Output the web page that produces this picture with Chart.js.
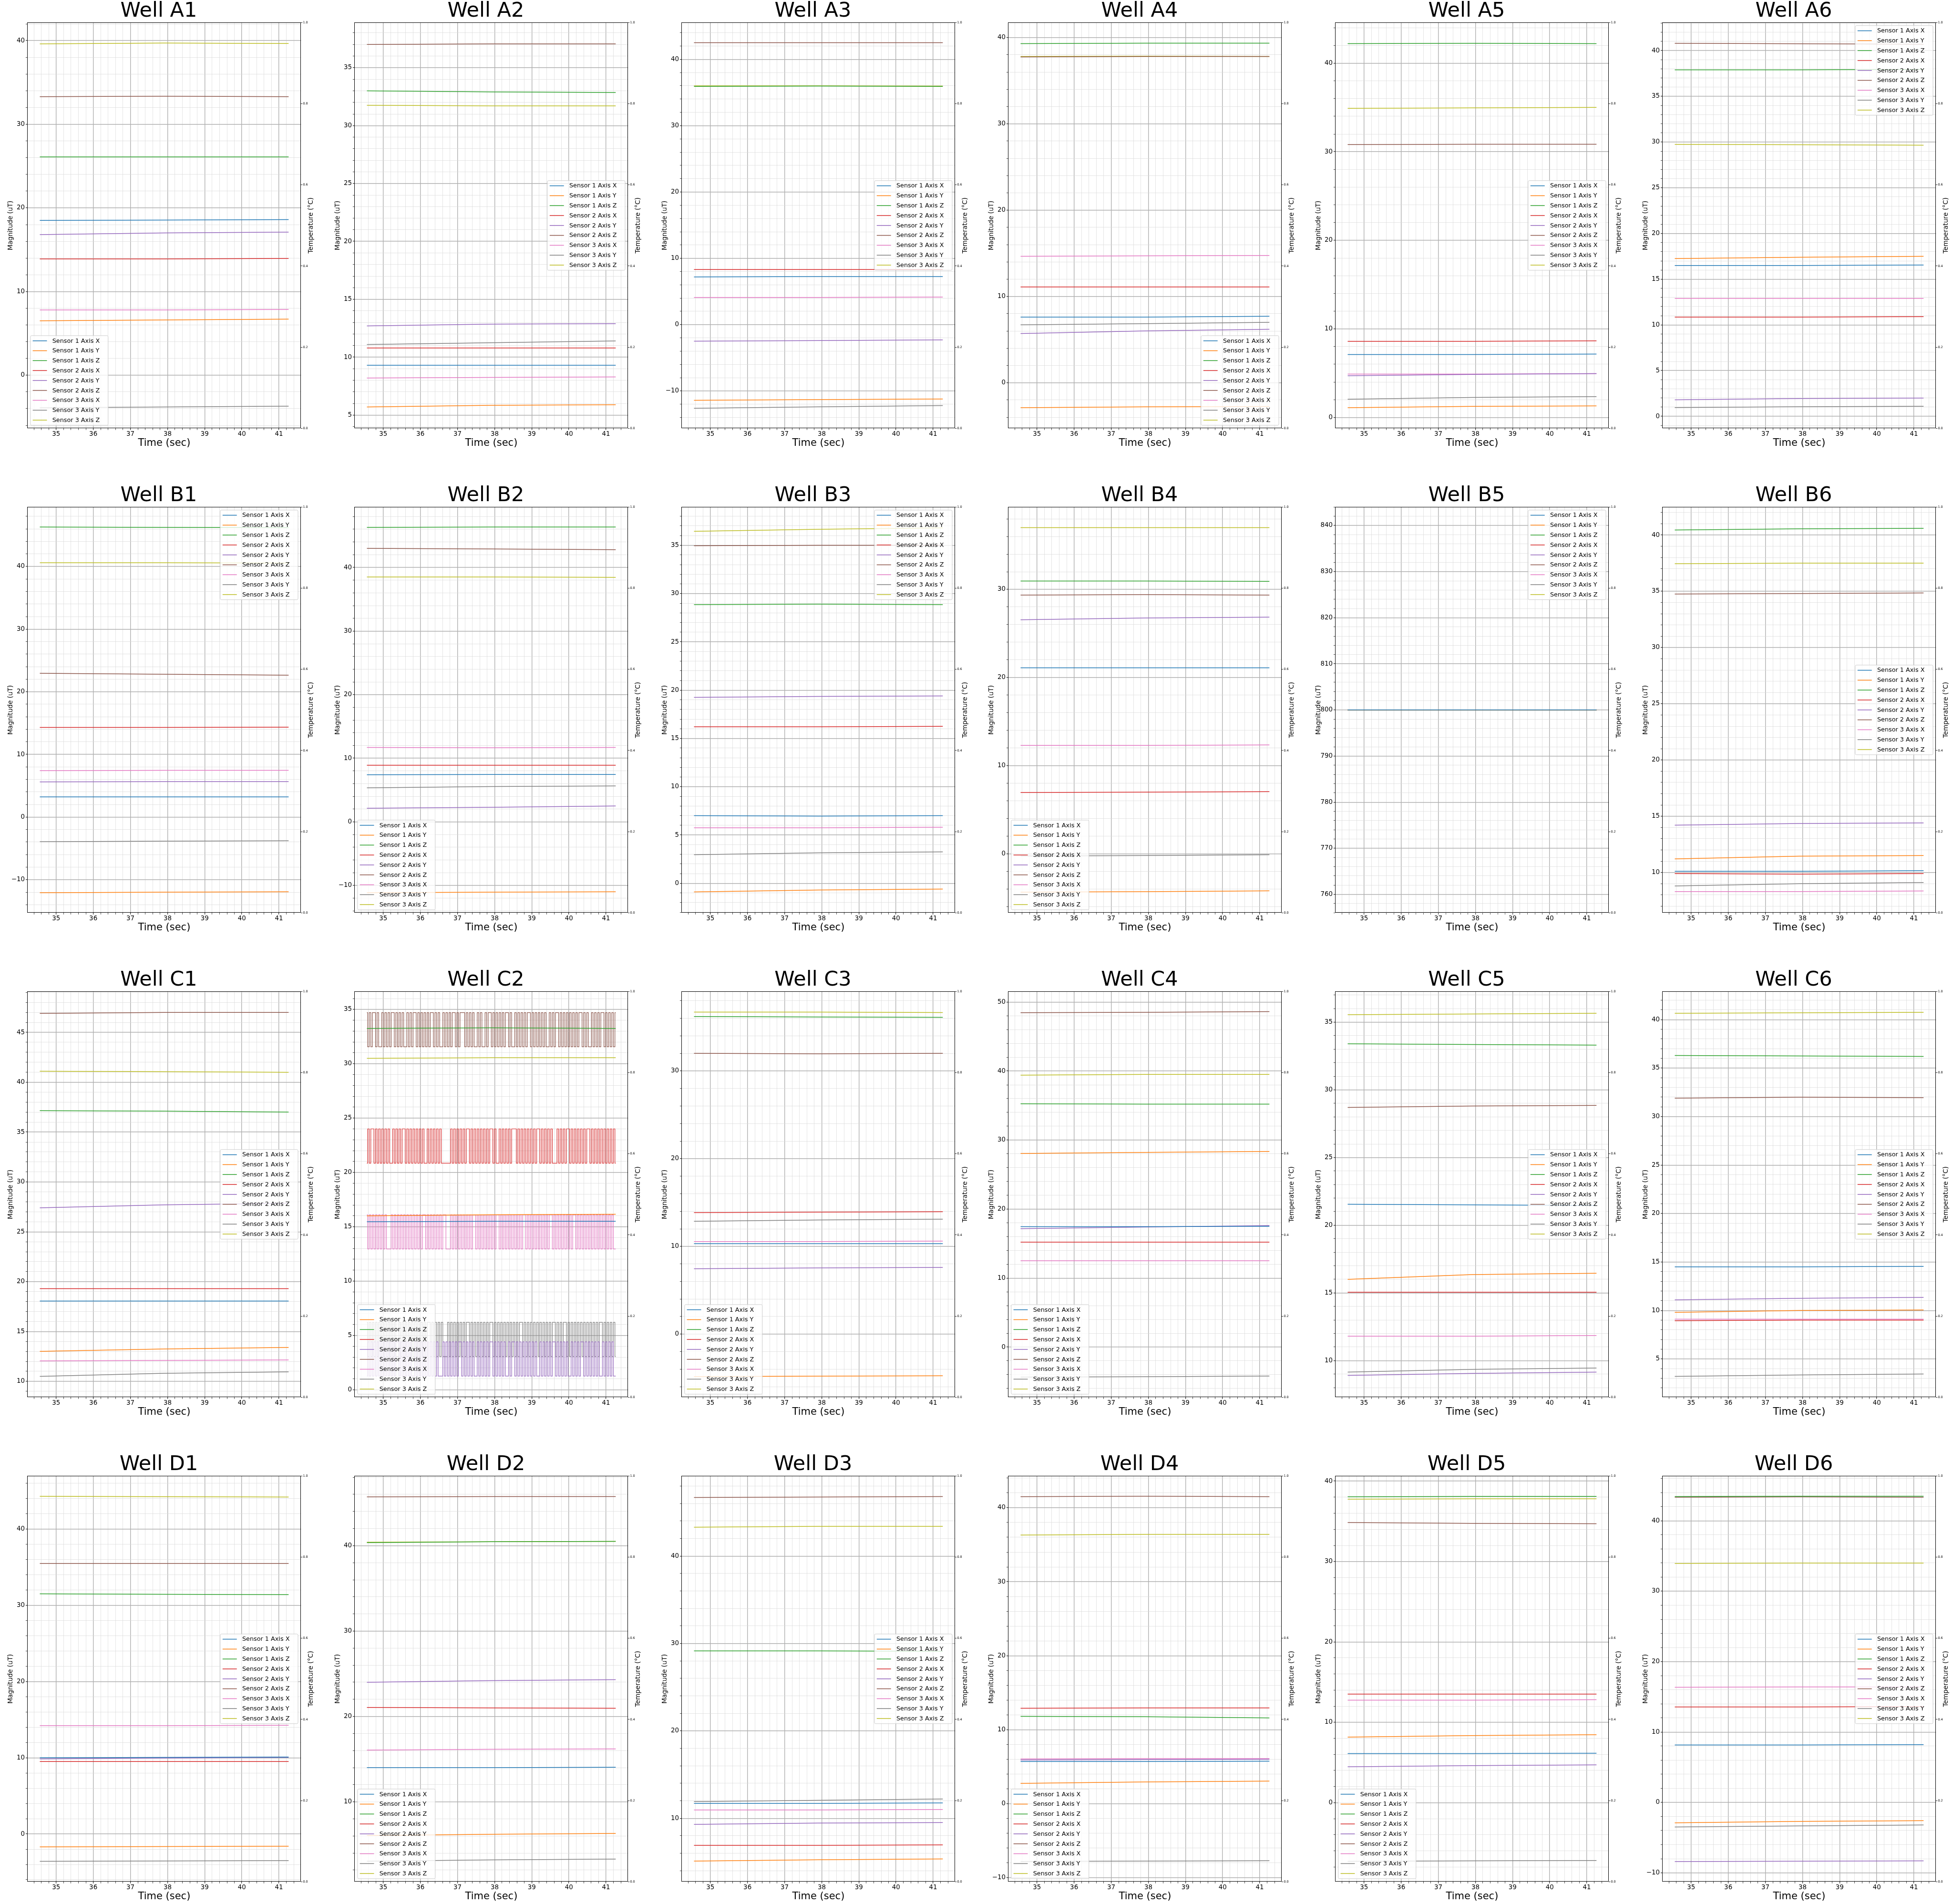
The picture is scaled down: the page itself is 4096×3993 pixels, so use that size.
<!DOCTYPE html>
<html>
<head>
<meta charset="utf-8">
<script src="https://cdn.jsdelivr.net/npm/chart.js@4.4.1/dist/chart.umd.min.js"></script>
<style>
html,body{margin:0;padding:0;background:#fff;width:4096px;height:3993px;overflow:hidden;position:relative}
canvas{position:absolute}
</style>
</head>
<body>
<script>
// ---------------- DATA ----------------
const sampleTimes = [34.56, 37.91, 41.26];
const seriesLabels = ['Sensor 1 Axis X','Sensor 1 Axis Y','Sensor 1 Axis Z','Sensor 2 Axis X','Sensor 2 Axis Y','Sensor 2 Axis Z','Sensor 3 Axis X','Sensor 3 Axis Y','Sensor 3 Axis Z'];
const seriesColors = ['#1f77b4','#ff7f0e','#2ca02c','#d62728','#9467bd','#8c564b','#e377c2','#7f7f7f','#bcbd22'];
const wellNames = ['A1','A2','A3','A4','A5','A6','B1','B2','B3','B4','B5','B6','C1','C2','C3','C4','C5','C6','D1','D2','D3','D4','D5','D6'];
const xTickLabels = ['35','36','37','38','39','40','41'];
const tempTickLabels = ['0.0','0.2','0.4','0.6','0.8','1.0'];

// each well: 9 series (S1X,S1Y,S1Z,S2X,S2Y,S2Z,S3X,S3Y,S3Z) read at sampleTimes
const wellA1 = [[18.5,18.55,18.6],[6.5,6.6,6.7],[26.1,26.1,26.1],[13.9,13.9,13.95],[16.8,17.0,17.1],[33.3,33.35,33.3],[7.8,7.8,7.85],[-3.9,-3.8,-3.7],[39.6,39.7,39.65]];
const wellA2 = [[9.3,9.3,9.3],[5.7,5.85,5.9],[33.0,32.9,32.85],[10.8,10.8,10.8],[12.7,12.85,12.9],[37.0,37.05,37.05],[8.2,8.25,8.3],[11.1,11.25,11.4],[31.75,31.7,31.7]];
const wellA3 = [[7.2,7.25,7.25],[-11.4,-11.3,-11.2],[35.9,35.95,35.9],[8.3,8.3,8.3],[-2.5,-2.4,-2.3],[42.5,42.5,42.5],[4.1,4.1,4.15],[-12.6,-12.4,-12.2],[36.0,36.0,35.95]];
const wellA4 = [[7.6,7.6,7.7],[-2.9,-2.8,-2.75],[39.3,39.35,39.35],[11.1,11.1,11.1],[5.7,6.0,6.2],[37.75,37.8,37.8],[14.65,14.7,14.75],[6.7,6.85,7.0],[37.8,37.85,37.8]];
const wellA5 = [[7.1,7.1,7.15],[1.1,1.25,1.3],[42.2,42.25,42.2],[8.6,8.6,8.65],[4.7,4.85,4.95],[30.8,30.85,30.85],[4.9,4.9,4.95],[2.05,2.25,2.35],[34.9,34.95,35.0]];
const wellA6 = [[16.5,16.5,16.55],[17.25,17.4,17.5],[37.9,37.9,37.95],[10.85,10.85,10.9],[1.8,1.95,2.0],[40.8,40.75,40.7],[12.9,12.9,12.9],[0.95,1.05,1.1],[29.75,29.7,29.65]];
const wellB1 = [[3.2,3.2,3.2],[-12.1,-12.0,-11.95],[46.3,46.25,46.2],[14.3,14.3,14.35],[5.6,5.65,5.65],[22.95,22.8,22.65],[7.4,7.45,7.45],[-3.95,-3.85,-3.8],[40.6,40.6,40.55]];
const wellB2 = [[7.4,7.45,7.45],[-11.15,-11.05,-11.0],[46.3,46.35,46.35],[8.9,8.9,8.9],[2.15,2.3,2.5],[43.0,42.9,42.8],[11.7,11.65,11.7],[5.35,5.55,5.65],[38.5,38.5,38.45]];
const wellB3 = [[7.0,6.95,7.0],[-0.9,-0.7,-0.6],[28.85,28.9,28.85],[16.2,16.2,16.25],[19.25,19.35,19.4],[34.95,35.0,35.0],[5.75,5.75,5.8],[2.95,3.15,3.25],[36.45,36.65,36.8]];
const wellB4 = [[21.1,21.1,21.1],[-4.35,-4.3,-4.2],[30.95,30.95,30.9],[6.95,7.0,7.05],[26.55,26.75,26.85],[29.35,29.4,29.35],[12.3,12.3,12.35],[-0.25,-0.2,-0.1],[37.0,37.0,37.0]];
const wellB5 = [[800,800,800],[800,800,800],[800,800,800],[800,800,800],[800,800,800],[800,800,800],[800,800,800],[800,800,800],[800,800,800]];
const wellB6 = [[10.1,10.1,10.15],[11.2,11.45,11.5],[40.45,40.55,40.6],[9.9,9.85,9.9],[14.2,14.35,14.4],[34.75,34.8,34.85],[8.3,8.3,8.35],[8.8,9.0,9.1],[37.45,37.5,37.5]];
const wellC1 = [[18.05,18.05,18.05],[13.0,13.25,13.4],[37.15,37.1,37.0],[19.3,19.3,19.3],[27.4,27.7,27.85],[46.9,47.0,47.0],[12.05,12.1,12.15],[10.5,10.8,10.95],[41.1,41.05,41.0]];
const wellC2 = [[15.45,15.5,15.5],[16.0,16.1,16.15],[33.25,33.3,33.25],null,null,null,null,null,[30.5,30.55,30.55]];
const wellC3 = [[10.3,10.3,10.3],[-4.85,-4.8,-4.75],[36.2,36.15,36.1],[13.85,13.9,13.95],[7.45,7.55,7.6],[32.0,31.95,32.0],[10.55,10.55,10.6],[12.85,13.0,13.1],[36.7,36.7,36.65]];
const wellC4 = [[17.45,17.45,17.5],[28.05,28.2,28.35],[35.25,35.2,35.2],[15.2,15.2,15.2],[17.15,17.4,17.6],[48.45,48.5,48.6],[12.5,12.5,12.5],[-4.35,-4.3,-4.2],[39.4,39.5,39.5]];
const wellC5 = [[21.55,21.5,21.45],[16.0,16.35,16.45],[33.4,33.35,33.3],[15.05,15.05,15.05],[8.9,9.05,9.15],[28.7,28.8,28.85],[11.8,11.8,11.85],[9.15,9.35,9.45],[35.55,35.6,35.65]];
const wellC6 = [[14.5,14.5,14.55],[9.8,10.0,10.05],[36.3,36.25,36.2],[8.95,9.0,9.0],[11.1,11.25,11.35],[31.9,32.0,31.95],[9.1,9.1,9.1],[3.2,3.35,3.45],[40.65,40.7,40.75]];
const wellD1 = [[10.0,10.05,10.1],[-1.7,-1.65,-1.6],[31.5,31.45,31.4],[9.5,9.5,9.5],[9.85,9.95,10.05],[35.5,35.5,35.5],[14.2,14.2,14.25],[-3.6,-3.55,-3.5],[44.3,44.25,44.2]];
const wellD2 = [[14.0,14.0,14.05],[6.05,6.2,6.3],[40.35,40.45,40.5],[21.05,21.0,20.95],[24.0,24.2,24.3],[45.7,45.75,45.75],[16.05,16.15,16.2],[3.05,3.2,3.3],[40.4,40.45,40.5]];
const wellD3 = [[11.7,11.7,11.75],[5.1,5.25,5.35],[29.15,29.15,29.1],[6.9,6.9,6.95],[9.3,9.45,9.5],[46.7,46.75,46.8],[10.95,10.95,11.0],[11.9,12.05,12.2],[43.3,43.4,43.4]];
const wellD4 = [[5.7,5.7,5.75],[2.75,2.95,3.05],[11.8,11.75,11.6],[12.9,12.95,12.95],[5.9,5.95,6.0],[41.5,41.55,41.5],[6.05,6.1,6.1],[-7.8,-7.75,-7.7],[36.3,36.4,36.4]];
const wellD5 = [[6.1,6.1,6.15],[8.15,8.35,8.45],[38.05,38.1,38.1],[13.5,13.5,13.5],[4.45,4.6,4.7],[34.85,34.75,34.7],[12.75,12.75,12.8],[-7.3,-7.25,-7.2],[37.75,37.8,37.8]];
const wellD6 = [[8.15,8.15,8.2],[-2.9,-2.7,-2.6],[43.45,43.5,43.5],[13.55,13.55,13.6],[-8.4,-8.35,-8.3],[43.35,43.4,43.35],[16.35,16.4,16.4],[-3.5,-3.35,-3.2],[33.95,34.0,34.0]];

// Well C2: switching series, high/low levels and read state sequence (H/L)
const c2LevelsS2X = [24.0, 20.85];
const c2LevelsS2Y = [4.4, 1.25];
const c2LevelsS2Z = [34.7, 31.55];
const c2LevelsS3X = [16.1, 12.95];
const c2LevelsS3Y = [6.2, 3.05];
const c2StatesS2X = ['LHLHHLHLHL','HLHLHLLHLH','LHLHHLHLHL','HLHLHLHLLH','LHLHLHLHLL','LLLLHLHLHL','HLHLHHLHLH','LHLHLHLHLH','HLHLLHLHLH','LHLHHHLHLH','LHLHLHLHLH','HLHLHLHLHL','LLHLHLHLHH','LHLHLHLHLH','LHHLHLHLHL','HLHLHLHLHL'];
const c2StatesS2Y = ['LHLHLHLHLH','LHLHLHLHLH','HLHLHLHLHL','LHLHLHLHLH','LHLHLHLLLH','LHLHLHLHLH','HLHLHLHLHL','LHLHLHLHLH','HLHLHLHLHL','LHLHHLHLHL','HLHLHLHLHL','LHLHLHLHLH','HLHLHLHLHL','LHLHLHLHHL','HLHLHLHLHL','LHLHLHLHLL'];
const c2StatesS2Z = ['HLHLHHLHLL','HLHLHLHHLH','LHLHLLHLHL','HHLHLHLHLH','LHHLHLHLLH','LHLHLHHLHL','HHHLHLHLHL','LHLHLLHLHH','LHLHLHLHLH','HLHLLHLHLH','LHLHHLHLHL','HLHLHLLHLH','LHHLHLHLHL','HLHLHLHHLH','LHLLHLHLHL','HHLHLHLHLH'];
const c2StatesS3X = ['HLHLHLHLHL','HLHLLLHLHL','HLHLHLHLHL','HLHLHLHHLH','LHLHLHLHLH','HLLLHLHLHL','HLHLHLHLHH','LHLHLHLHLH','LHLHHLHLHL','HLHLHLHLHL','HHLHLHLHLH','LHLHLHLHHL','HLHLHLHLHL','HLHHLHLHLH','LHLHLHLHLH','LHLHLHLHLL'];
const c2StatesS3Y = ['HLHLHLHLHL','HLHLHLHLHL','LHLHLHLHLH','LHLHLHLHLH','HLHLHLHLHL','LLHLHLHLHL','HLHLHHLHLH','LHLHLHLHLH','HLHLHLHLHL','HLHLHLHLHH','LHLHLHLHLH','LHLHLHLHLH','HLHLHLHHLH','LHLHLHLHLH','LHLHLHLHLH','HLHLHLHLHL'];

const majorSteps = [10,5,10,10,10,5, 10,10,5,10,10,5, 5,5,10,10,5,5, 10,10,10,10,10,10];
const legendLocs = ['lower left','center right','center right','lower right','center right','upper right',
                    'upper right','lower left','upper right','lower left','upper right','center right',
                    'center right','lower left','lower left','lower left','center right','center right',
                    'center right','lower left','center right','lower left','lower left','center right'];

// ---------------- LAYOUT ----------------
const FONT = '"DejaVu Sans", "Liberation Sans", sans-serif';
const CELL_W = 685.8, CELL_H = 1016;
const CANVAS_W = 666, CANVAS_H = 945;
const Y_AXIS_W = 57.4, Y2_AXIS_W = CANVAS_W - 57.4 - 574, X_AXIS_H = 46.7;
const MAJOR_GRID = '#b0b0b0', MINOR_GRID = '#d9d9d9';

Chart.defaults.font.family = FONT;

const wellData = [wellA1,wellA2,wellA3,wellA4,wellA5,wellA6,wellB1,wellB2,wellB3,wellB4,wellB5,wellB6,
                  wellC1,wellC2,wellC3,wellC4,wellC5,wellC6,wellD1,wellD2,wellD3,wellD4,wellD5,wellD6];
const c2Switching = {
  3: {levels: c2LevelsS2X, states: c2StatesS2X.join('')},
  4: {levels: c2LevelsS2Y, states: c2StatesS2Y.join('')},
  5: {levels: c2LevelsS2Z, states: c2StatesS2Z.join('')},
  6: {levels: c2LevelsS3X, states: c2StatesS3X.join('')},
  7: {levels: c2LevelsS3Y, states: c2StatesS3Y.join('')}
};

const tStart = sampleTimes[0], tEnd = sampleTimes[sampleTimes.length - 1];
const xMargin = (tEnd - tStart) * 0.05;
const xMin = tStart - xMargin, xMax = tEnd + xMargin;

const isMul = (v, step) => Math.abs(v / step - Math.round(v / step)) < 1e-6;
const fmtNum = v => { const r = Math.round(v); return r < 0 ? '\u2212' + Math.abs(r) : String(r); };

function buildDatasets(w) {
  const rows = wellData[w];
  return rows.map((vals, i) => {
    let data, stepped = false;
    if (vals === null) {
      const sw = c2Switching[i];
      const n = sw.states.length;
      data = [];
      for (let k = 0; k < n; k++) {
        const t = tStart + k * (tEnd - tStart) / (n - 1);
        data.push({x: t, y: sw.states[k] === 'H' ? sw.levels[0] : sw.levels[1]});
      }
      stepped = 'middle';
    } else {
      data = vals.map((v, k) => ({x: sampleTimes[k], y: v}));
    }
    return {
      label: seriesLabels[i], data, stepped,
      borderColor: seriesColors[i], backgroundColor: seriesColors[i],
      borderWidth: vals === null ? 1.2 : 1.5, pointRadius: 0, tension: 0, fill: false
    };
  });
}

function yLimits(datasets) {
  let lo = Infinity, hi = -Infinity;
  datasets.forEach(d => d.data.forEach(p => { lo = Math.min(lo, p.y); hi = Math.max(hi, p.y); }));
  if (hi - lo < 1e-9) { const d = Math.abs(lo) * 0.05; lo -= d; hi += d; }
  else { lo -= 0.25; hi += 0.25; }
  const m = (hi - lo) * 0.05;
  return [lo - m, hi + m];
}

const extrasPlugin = {
  id: 'mplExtras',
  afterDraw(chart, args, opts) {
    const {ctx, chartArea: a} = chart;
    ctx.save();
    // spines
    ctx.strokeStyle = '#000'; ctx.lineWidth = 1;
    const L = Math.round(a.left) + 0.5, R = Math.round(a.right) - 0.5;
    const T = Math.round(a.top) + 0.5, B = Math.round(a.bottom) - 0.5;
    ctx.strokeRect(L, T, R - L, B - T);
    // right axis title
    ctx.save();
    ctx.translate(a.right + 21.5, (a.top + a.bottom) / 2);
    ctx.rotate(-Math.PI / 2);
    ctx.font = '13.6px ' + FONT;
    ctx.fillStyle = '#000'; ctx.textAlign = 'center'; ctx.textBaseline = 'middle';
    ctx.fillText('Temperature (\u00B0C)', 0, 0);
    ctx.restore();
    // legend
    const fs = 12.8, pitch = 20.8, padV = 10.8, bw = 163, bh = padV * 2 + pitch * 8, pad = 6.4;
    const loc = opts.loc;
    let bx, by;
    if (loc.endsWith('left')) bx = a.left + pad; else bx = a.right - pad - bw;
    if (loc.startsWith('lower')) by = a.bottom - pad - bh;
    else if (loc.startsWith('upper')) by = a.top + pad;
    else by = (a.top + a.bottom) / 2 - bh / 2;
    ctx.beginPath();
    if (ctx.roundRect) ctx.roundRect(bx, by, bw, bh, 2.5); else ctx.rect(bx, by, bw, bh);
    ctx.fillStyle = 'rgba(255,255,255,0.8)'; ctx.fill();
    ctx.strokeStyle = '#cccccc'; ctx.lineWidth = 1; ctx.stroke();
    ctx.font = fs + 'px ' + FONT; ctx.textAlign = 'left'; ctx.textBaseline = 'middle';
    chart.data.datasets.forEach((d, i) => {
      const cy = by + padV + i * pitch;
      ctx.strokeStyle = d.borderColor; ctx.lineWidth = 1.5;
      ctx.beginPath(); ctx.moveTo(bx + 4.8, cy); ctx.lineTo(bx + 34.7, cy); ctx.stroke();
      ctx.fillStyle = '#000';
      ctx.fillText(d.label, bx + 45.9, cy + 0.5);
    });
    ctx.restore();
  }
};

wellNames.forEach((name, w) => {
  const r = Math.floor(w / 6), c = w % 6;
  const cv = document.createElement('canvas');
  cv.width = CANVAS_W; cv.height = CANVAS_H;
  cv.style.left = Math.round(c * CELL_W) + 'px';
  cv.style.top = Math.round(r * CELL_H) + 'px';
  document.body.appendChild(cv);
  const datasets = buildDatasets(w);
  const [yMin, yMax] = yLimits(datasets);
  const major = majorSteps[w], minor = major / 5;
  const gridColor = step => ctx => (ctx.tick && isMul(ctx.tick.value, step)) ? MAJOR_GRID : MINOR_GRID;
  const gridWidth = step => ctx => (ctx.tick && isMul(ctx.tick.value, step)) ? 1.4 : 0.7;
  const tickW = step => ctx => (ctx.tick && isMul(ctx.tick.value, step)) ? 1 : 0.7;
  new Chart(cv.getContext('2d'), {
    type: 'line',
    data: {datasets},
    plugins: [extrasPlugin],
    options: {
      responsive: false, animation: false, devicePixelRatio: 1, events: [],
      layout: {padding: 0},
      plugins: {
        legend: {display: false}, tooltip: {enabled: false},
        title: {display: true, text: 'Well ' + name, color: '#000',
                font: {family: FONT, size: 43, weight: 'normal', lineHeight: 1},
                padding: {top: 2, bottom: 2.3}},
        mplExtras: {loc: legendLocs[w]}
      },
      scales: {
        x: {
          type: 'linear', position: 'bottom', min: xMin, max: xMax,
          afterFit: s => { s.height = X_AXIS_H; s.paddingLeft = 0; s.paddingRight = 0; },
          ticks: {stepSize: 0.2, includeBounds: false, autoSkip: false, maxRotation: 0, minRotation: 0,
                  maxTicksLimit: 1000, padding: 0.6, color: '#000', font: {family: FONT, size: 13.4},
                  callback: v => { if (!isMul(v, 1)) return ''; const s = String(Math.round(v)); return xTickLabels.includes(s) ? s : ''; }},
          grid: {color: gridColor(1), lineWidth: gridWidth(1), drawTicks: true, tickLength: 3.5,
                 tickColor: '#000', tickWidth: tickW(1)},
          border: {display: false},
          title: {display: true, text: 'Time (sec)', color: '#000', font: {family: FONT, size: 21},
                  padding: {top: 0, bottom: 3.1}}
        },
        y: {
          type: 'linear', position: 'left', min: yMin, max: yMax,
          afterFit: s => { s.width = Y_AXIS_W; s.paddingTop = 0; s.paddingBottom = 0; },
          ticks: {stepSize: minor, includeBounds: false, autoSkip: false, maxTicksLimit: 1000,
                  padding: 1.8, color: '#000', font: {family: FONT, size: 13.4},
                  callback: v => isMul(v, major) ? fmtNum(v) : ''},
          grid: {color: gridColor(major), lineWidth: gridWidth(major), drawTicks: true, tickLength: 3.5,
                 tickColor: '#000', tickWidth: tickW(major)},
          border: {display: false},
          title: {display: true, text: 'Magnitude (uT)', color: '#000', font: {family: FONT, size: 13.6},
                  padding: {top: 14, bottom: 0}}
        },
        y2: {
          type: 'linear', position: 'right', min: 0, max: 1,
          afterFit: s => { s.width = Y2_AXIS_W; s.paddingTop = 0; s.paddingBottom = 0; },
          ticks: {stepSize: 0.2, includeBounds: false, autoSkip: false, padding: 1, color: '#000',
                  font: {family: FONT, size: 6.5},
                  callback: (v, i) => tempTickLabels[Math.round(v / 0.2)] || ''},
          grid: {drawOnChartArea: false, drawTicks: true, tickLength: 3, tickColor: '#000', tickWidth: 0.8},
          border: {display: false}
        }
      }
    }
  });
});
</script>
</body>
</html>
